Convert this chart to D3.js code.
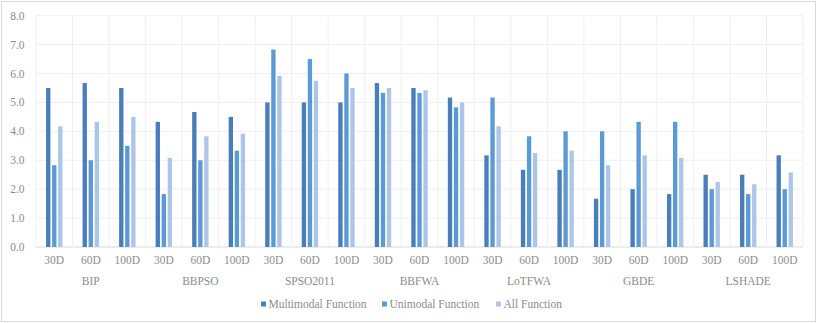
<!DOCTYPE html>
<html lang="en">
<head>
    <meta charset="UTF-8">
    <title>Algorithm Comparison Bar Chart</title>
    <script src="https://d3js.org/d3.v7.min.js"></script>
    <style>
        body { margin: 0; background: white; }
        svg text { font-family: 'Liberation Serif', 'Times New Roman', serif; fill: #8c8c8c; }
    </style>
</head>
<body>
    <svg width="817" height="323"></svg>
    <script>
        var algorithms = ["BIP", "BBPSO", "SPSO2011", "BBFWA", "LoTFWA", "GBDE", "LSHADE"];
        var dims = ["30D", "60D", "100D"];
        var seriesNames = ["Multimodal Function", "Unimodal Function", "All Function"];
        var multimodal = [5.5, 5.67, 5.5, 4.33, 4.67, 4.5, 5.0, 5.0, 5.0, 5.67, 5.5, 5.17, 3.17, 2.67, 2.67, 1.67, 2.0, 1.83, 2.5, 2.5, 3.17];
        var unimodal = [2.83, 3.0, 3.5, 1.83, 3.0, 3.33, 6.83, 6.5, 6.0, 5.33, 5.33, 4.83, 5.17, 3.83, 4.0, 4.0, 4.33, 4.33, 2.0, 1.83, 2.0];
        var allFunc = [4.17, 4.33, 4.5, 3.08, 3.83, 3.92, 5.92, 5.75, 5.5, 5.5, 5.42, 5.0, 4.17, 3.25, 3.33, 2.83, 3.17, 3.08, 2.25, 2.17, 2.58];
        var yTicks = [0, 1, 2, 3, 4, 5, 6, 7, 8];
        var colors = ["#4a7ebb", "#5b9bd5", "#adc6e8"];

        var svg = d3.select("svg");
        var plotLeft = 36, plotRight = 803, plotTop = 15.7, plotBottom = 247;
        var fontSize = "11.5px";

        // outer frame
        svg.append("rect")
            .attr("x", 1.5).attr("y", 1.5)
            .attr("width", 814).attr("height", 320)
            .attr("fill", "white")
            .attr("stroke", "#d9d9d9");

        var keys = [];
        algorithms.forEach(function(a) {
            dims.forEach(function(d) { keys.push(a + "|" + d); });
        });

        var x_ = d3.scaleBand().domain(keys).range([plotLeft, plotRight]);
        var y_ = d3.scaleLinear().domain([0, 8]).range([plotBottom, plotTop]);
        var inner = d3.scaleBand().domain([0, 1, 2]).range([0, 16.4]).paddingInner(0.28);

        // horizontal gridlines
        svg.append("g").selectAll("line")
            .data(yTicks)
            .enter().append("line")
            .attr("x1", plotLeft).attr("x2", plotRight)
            .attr("y1", function(d) { return y_(d); })
            .attr("y2", function(d) { return y_(d); })
            .attr("stroke", function(d) { return d === 0 ? "#d9d9d9" : "#efefef"; })
            .attr("stroke-width", 1);

        // vertical gridlines between categories
        var bounds = keys.map(function(k) { return x_(k); }).concat([plotRight]);
        svg.append("g").selectAll("line")
            .data(bounds)
            .enter().append("line")
            .attr("x1", function(d) { return d; })
            .attr("x2", function(d) { return d; })
            .attr("y1", plotTop).attr("y2", plotBottom)
            .attr("stroke", "#efefef");

        // y tick labels
        svg.append("g").selectAll("text")
            .data(yTicks)
            .enter().append("text")
            .attr("x", 24.5)
            .attr("y", function(d) { return y_(d) + 4; })
            .attr("text-anchor", "end")
            .attr("font-size", fontSize)
            .text(function(d) { return d.toFixed(1); });

        // bars
        var series = [multimodal, unimodal, allFunc];
        series.forEach(function(vals, s) {
            svg.append("g").selectAll("rect")
                .data(vals)
                .enter().append("rect")
                .attr("x", function(d, i) { return x_(keys[i]) + x_.bandwidth() / 2 - 8.2 + inner(s); })
                .attr("y", function(d) { return y_(d); })
                .attr("width", inner.bandwidth())
                .attr("height", function(d) { return plotBottom - y_(d); })
                .attr("fill", colors[s]);
        });

        // dimension labels
        svg.append("g").selectAll("text")
            .data(keys)
            .enter().append("text")
            .attr("x", function(k) { return x_(k) + x_.bandwidth() / 2; })
            .attr("y", 264)
            .attr("text-anchor", "middle")
            .attr("font-size", fontSize)
            .text(function(k) { return k.split("|")[1]; });

        // algorithm labels
        svg.append("g").selectAll("text")
            .data(algorithms)
            .enter().append("text")
            .attr("x", function(a) { return x_(a + "|60D") + x_.bandwidth() / 2; })
            .attr("y", 285)
            .attr("text-anchor", "middle")
            .attr("font-size", fontSize)
            .text(function(a) { return a; });

        // legend
        var legendX = [261, 382, 496];
        var legend = svg.append("g");
        seriesNames.forEach(function(name, i) {
            legend.append("rect")
                .attr("x", legendX[i]).attr("y", 301.5)
                .attr("width", 5).attr("height", 5)
                .attr("fill", colors[i]);
            legend.append("text")
                .attr("x", legendX[i] + 7.5).attr("y", 308)
                .attr("font-size", fontSize)
                .text(name);
        });
    </script>
</body>
</html>
